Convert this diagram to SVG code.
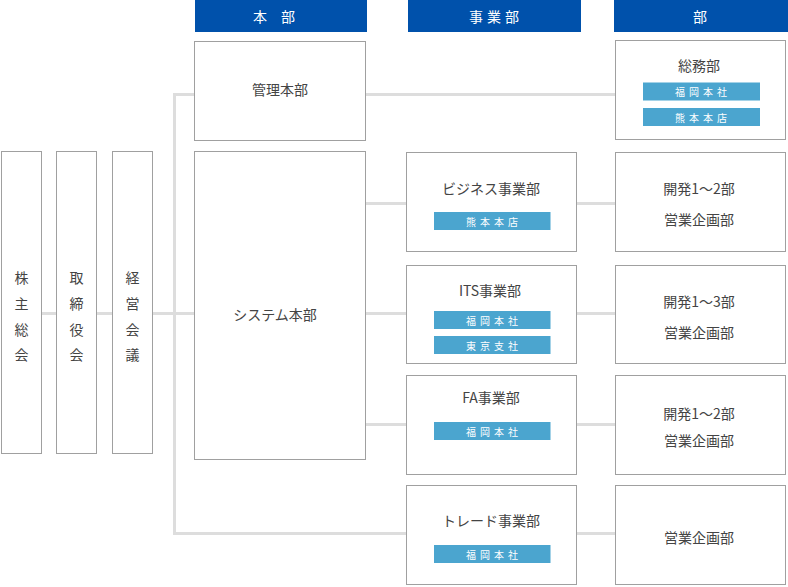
<svg xmlns="http://www.w3.org/2000/svg" width="788" height="587" viewBox="0 0 788 587">
<style>
text{font-family:"Noto Sans CJK JP","Noto Sans",sans-serif;}
.hd{fill:#0051AB;}
.hdt{fill:#fff;font-size:14px;text-anchor:middle;dominant-baseline:central;}
.box{fill:#fff;stroke:#a0a0a0;stroke-width:1;}
.t{fill:#444;font-size:14px;text-anchor:middle;dominant-baseline:central;}
.tag{fill:#4BA5CF;}
.tt{fill:#fff;font-size:10px;text-anchor:middle;dominant-baseline:central;letter-spacing:4px;}
.c{stroke:#dddddd;stroke-width:3;fill:none;}
</style>
<g id="headers">
<rect class="hd" x="195" y="0" width="172" height="32"/>
<text class="hdt" x="281" y="16" letter-spacing="14">本<tspan dx="0">部</tspan></text>
<rect class="hd" x="408" y="0" width="173" height="32"/>
<text class="hdt" x="496" y="16" letter-spacing="4">事業部</text>
<rect class="hd" x="614" y="0" width="174" height="32"/>
<text class="hdt" x="700" y="16">部</text>
</g>
<g id="connectors">
<line class="c" x1="41" y1="313.5" x2="615" y2="313.5"/>
<polyline class="c" points="195,94.5 174.5,94.5 174.5,533.5 407,533.5"/>
<line class="c" x1="366" y1="94.5" x2="615" y2="94.5"/>
<line class="c" x1="366" y1="203.5" x2="615" y2="203.5"/>
<line class="c" x1="366" y1="424.5" x2="615" y2="424.5"/>
<line class="c" x1="577" y1="533.5" x2="615" y2="533.5"/>
</g>
<g id="kabunushi">
<rect class="box" x="1.5" y="151.5" width="40" height="302"/>
<text class="t" x="21.5" y="277">株</text><text class="t" x="21.5" y="303">主</text><text class="t" x="21.5" y="329">総</text><text class="t" x="21.5" y="354">会</text>
</g>
<g id="torishimariyaku">
<rect class="box" x="56.5" y="151.5" width="40" height="302"/>
<text class="t" x="76.5" y="277">取</text><text class="t" x="76.5" y="303">締</text><text class="t" x="76.5" y="329">役</text><text class="t" x="76.5" y="354">会</text>
</g>
<g id="keiei">
<rect class="box" x="112.5" y="151.5" width="40" height="302"/>
<text class="t" x="132.5" y="277">経</text><text class="t" x="132.5" y="303">営</text><text class="t" x="132.5" y="329">会</text><text class="t" x="132.5" y="354">議</text>
</g>
<g id="kanri">
<rect class="box" x="194.5" y="41.5" width="171" height="99"/>
<text class="t" x="280" y="88.5">管理本部</text>
</g>
<g id="system">
<rect class="box" x="194.5" y="151.5" width="171" height="308"/>
<text class="t" x="275" y="314">システム本部</text>
</g>
<g id="soumu">
<rect class="box" x="615.5" y="40.5" width="170" height="99"/>
<text class="t" x="699" y="65">総務部</text>
<rect class="tag" x="643" y="82.5" width="117" height="18"/>
<text class="tt" x="703" y="91.5">福岡本社</text>
<rect class="tag" x="643" y="108" width="117" height="18"/>
<text class="tt" x="703" y="117">熊本本店</text>
</g>
<g id="business">
<rect class="box" x="406.5" y="152.5" width="170" height="99"/>
<text class="t" x="491" y="188">ビジネス事業部</text>
<rect class="tag" x="434" y="212" width="116.5" height="18"/>
<text class="tt" x="494" y="221">熊本本店</text>
</g>
<g id="its">
<rect class="box" x="406.5" y="265.5" width="170" height="98"/>
<text class="t" x="490" y="290">ITS事業部</text>
<rect class="tag" x="434" y="311" width="116.5" height="18"/>
<text class="tt" x="494" y="320">福岡本社</text>
<rect class="tag" x="434" y="336" width="116.5" height="18"/>
<text class="tt" x="494" y="345">東京支社</text>
</g>
<g id="fa">
<rect class="box" x="406.5" y="375.5" width="170" height="99"/>
<text class="t" x="491" y="397">FA事業部</text>
<rect class="tag" x="434" y="422" width="116.5" height="18"/>
<text class="tt" x="494" y="431">福岡本社</text>
</g>
<g id="trade">
<rect class="box" x="406.5" y="485.5" width="170" height="99"/>
<text class="t" x="491" y="520">トレード事業部</text>
<rect class="tag" x="434" y="545" width="116.5" height="18"/>
<text class="tt" x="494" y="554">福岡本社</text>
</g>
<g id="business-dept">
<rect class="box" x="615.5" y="152.5" width="170" height="99"/>
<text class="t" x="699" y="187.5">開発1～2部</text>
<text class="t" x="699" y="219">営業企画部</text>
</g>
<g id="its-dept">
<rect class="box" x="615.5" y="265.5" width="170" height="98"/>
<text class="t" x="699" y="300.5">開発1～3部</text>
<text class="t" x="699" y="331.5">営業企画部</text>
</g>
<g id="fa-dept">
<rect class="box" x="615.5" y="375.5" width="170" height="99"/>
<text class="t" x="699" y="412.5">開発1～2部</text>
<text class="t" x="699" y="440">営業企画部</text>
</g>
<g id="trade-dept">
<rect class="box" x="615.5" y="485.5" width="170" height="99"/>
<text class="t" x="699" y="536.5">営業企画部</text>
</g>
</svg>
